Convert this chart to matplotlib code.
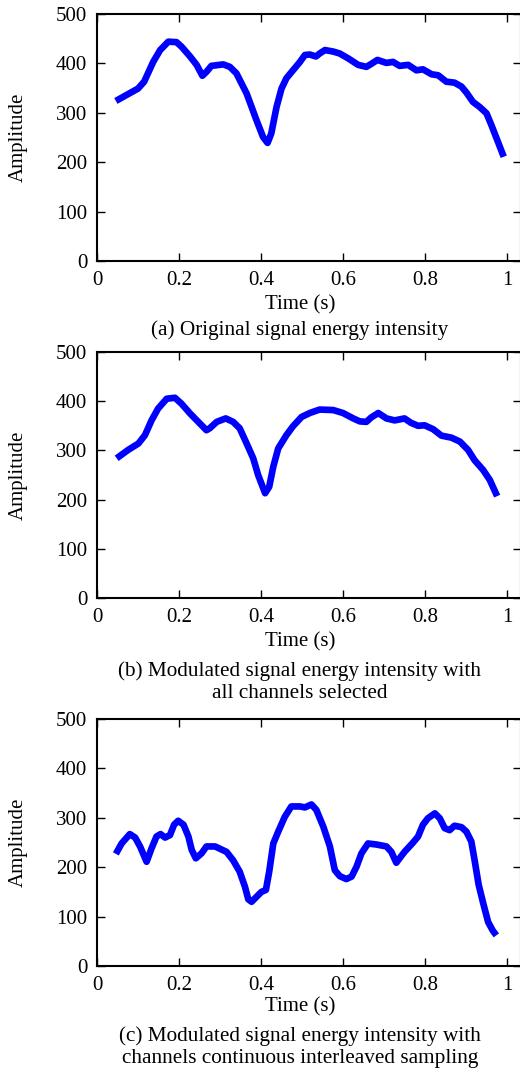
import numpy as np
import matplotlib
matplotlib.use("Agg")
import matplotlib.pyplot as plt

plt.rcParams['font.family'] = ['Liberation Serif', 'DejaVu Serif']

# (a) original signal energy intensity
t_a = [0.046, 0.100, 0.115, 0.137, 0.154, 0.174, 0.194, 0.206, 0.227, 0.243, 0.257, 0.267,
       0.279, 0.308, 0.324, 0.340, 0.365, 0.389, 0.405, 0.416, 0.425, 0.438, 0.450, 0.462,
       0.478, 0.495, 0.507, 0.519, 0.534, 0.543, 0.556, 0.576, 0.592, 0.613, 0.637, 0.657,
       0.669, 0.684, 0.706, 0.722, 0.738, 0.759, 0.779, 0.795, 0.816, 0.832, 0.852, 0.872,
       0.889, 0.901, 0.917, 0.933, 0.950, 0.962, 0.978, 0.992]
amp_a = [324, 349, 363, 403, 427, 444, 443, 434, 414, 397, 375, 383,
         395, 398, 393, 380, 339, 285, 251, 239, 258, 312, 349, 370,
         386, 403, 417, 418, 414, 420, 427, 424, 420, 410, 397, 393,
         399, 407, 401, 403, 395, 397, 386, 388, 378, 376, 363, 361,
         353, 341, 322, 312, 299, 275, 241, 211]

# (b) modulated, all channels selected
t_b = [0.048, 0.076, 0.101, 0.117, 0.133, 0.149, 0.170, 0.190, 0.206, 0.227, 0.247, 0.267,
       0.275, 0.292, 0.314, 0.332, 0.348, 0.365, 0.381, 0.393, 0.410, 0.420, 0.430, 0.442,
       0.462, 0.478, 0.499, 0.519, 0.543, 0.576, 0.600, 0.625, 0.641, 0.657, 0.669, 0.686,
       0.706, 0.726, 0.750, 0.766, 0.783, 0.799, 0.820, 0.840, 0.864, 0.885, 0.905, 0.921,
       0.942, 0.958, 0.976]
amp_b = [284, 301, 314, 331, 361, 385, 405, 407, 395, 375, 358, 341,
         345, 358, 365, 358, 345, 314, 284, 250, 213, 226, 267, 304,
         331, 349, 368, 376, 383, 382, 376, 365, 359, 358, 367, 376,
         365, 361, 365, 356, 350, 351, 343, 330, 326, 318, 301, 280,
         260, 240, 207]

# (c) modulated, continuous interleaved sampling
t_c = [0.046, 0.060, 0.080, 0.093, 0.105, 0.121, 0.133, 0.145, 0.155, 0.166, 0.178, 0.188,
       0.198, 0.211, 0.223, 0.231, 0.241, 0.255, 0.267, 0.288, 0.316, 0.332, 0.348, 0.361,
       0.369, 0.377, 0.389, 0.401, 0.412, 0.420, 0.430, 0.442, 0.458, 0.474, 0.495, 0.507,
       0.523, 0.535, 0.552, 0.568, 0.580, 0.592, 0.608, 0.621, 0.633, 0.645, 0.661, 0.681,
       0.706, 0.718, 0.730, 0.738, 0.750, 0.771, 0.783, 0.795, 0.807, 0.824, 0.836, 0.848,
       0.860, 0.872, 0.889, 0.901, 0.913, 0.921, 0.931, 0.942, 0.954, 0.965, 0.974]
amp_c = [227, 248, 267, 260, 242, 211, 238, 262, 267, 260, 265, 286,
         294, 286, 262, 235, 218, 228, 242, 242, 231, 214, 191, 160,
         135, 130, 140, 150, 154, 191, 248, 272, 302, 323, 323, 321,
         327, 316, 282, 242, 194, 182, 176, 181, 201, 228, 248, 246,
         242, 231, 209, 218, 231, 250, 262, 286, 299, 309, 299, 279,
         275, 284, 281, 272, 252, 214, 164, 127, 89, 72, 62]

xticks = [0, 0.2, 0.4, 0.6, 0.8, 1]
xticklabels = ['0', '0.2', '0.4', '0.6', '0.8', '1']
yticks = [0, 100, 200, 300, 400, 500]

captions = ['(a) Original signal energy intensity',
            '(b) Modulated signal energy intensity with\nall channels selected',
            '(c) Modulated signal energy intensity with\nchannels continuous interleaved sampling']

W, H = 520, 1072
fig = plt.figure(figsize=(W / 100, H / 100), dpi=100)

# pixel boxes: (top, bottom) of each axes
boxes = [(14, 261), (352, 598), (719, 966)]
left_px, right_px = 97, 520.5
xlabel_y = [305, 642, 1007]
caption_y = [330, 682.5, 1047.5]

series = [(t_a, amp_a), (t_b, amp_b), (t_c, amp_c)]

for i, ((top, bot), (t, amp)) in enumerate(zip(boxes, series)):
    ax = fig.add_axes([left_px / W, 1 - bot / H, (right_px - left_px) / W, (bot - top) / H])
    ax.plot(t, amp, color='#0000ff', linewidth=4.8, solid_joinstyle='round',
            solid_capstyle='butt')
    ax.set_xlim(0, (right_px - left_px) / 410)
    ax.set_ylim(0, 500)
    ax.set_xticks(xticks)
    ax.set_xticklabels(xticklabels)
    ax.set_yticks(yticks)
    ax.tick_params(direction='in', top=True, right=True, length=6, width=1,
                   labelsize=15, pad=7)
    for s in ax.spines.values():
        s.set_linewidth(1.5)
    ax.set_ylabel('Amplitude', fontsize=15)
    ax.yaxis.set_label_coords((28 - left_px) / (right_px - left_px), 0.5)
    fig.text(300 / W, 1 - xlabel_y[i] / H, 'Time (s)', ha='center', va='center', fontsize=15)
    fig.text(300 / W, 1 - caption_y[i] / H, captions[i], ha='center', va='center',
             fontsize=15.3, linespacing=1.22)

fig.savefig('out.png', dpi=100)
